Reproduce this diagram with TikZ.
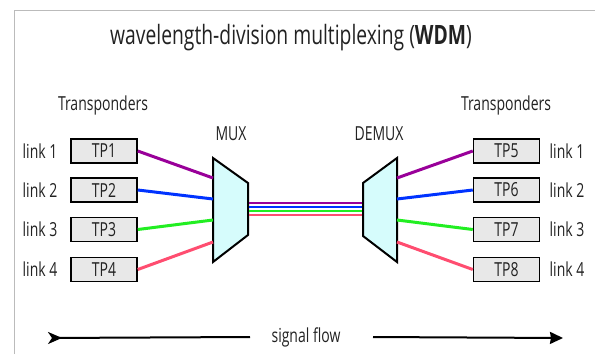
\documentclass[tikz,border=0pt]{standalone}
\usepackage{graphicx}
\usepackage{fontspec}
\setmainfont{Open Sans}
\usetikzlibrary{arrows.meta}
\definecolor{txt}{HTML}{222222}
\definecolor{tpfill}{HTML}{E8E8E8}
\definecolor{muxfill}{HTML}{D6FCFC}
\definecolor{cpurple}{HTML}{990099}
\definecolor{cblue}{HTML}{0033FF}
\definecolor{cgreen}{HTML}{22EE22}
\definecolor{cred}{HTML}{FF4D70}
\definecolor{frame}{HTML}{BBBBBB}
\newcommand\vst[1]{\scalebox{1}[1.38]{#1}}
\tikzset{
  tpbox/.style={draw=black, line width=1.5pt, fill=tpfill, minimum width=66pt, minimum height=24pt, inner sep=0pt, font=\fontsize{14}{16}\selectfont, text=txt},
  lbl/.style={inner sep=0pt, font=\fontsize{14}{16}\selectfont, text=txt},
  muxshape/.style={draw=black, line width=2pt, fill=muxfill, line join=miter},
  fiber/.style={line width=3pt},
  trunk/.style={line width=1.5pt},
  flow/.style={line width=2pt, black}
}
\begin{document}
\begin{tikzpicture}[x=1pt,y=-1pt]
\useasboundingbox (0,0) rectangle (595,354);
\draw[frame, line width=1pt] (14.5,354) -- (14.5,10.5) -- (595,10.5);
\node[inner sep=0pt, font=\fontsize{19.3}{23}\selectfont, text=txt] (title) at (291,38) {\vst{wavelength-division multiplexing (\textbf{WDM})}};
\node[lbl] (trl) at (103,105) {\vst{Transponders}};
\node[lbl] (trr) at (506,105) {\vst{Transponders}};
\node[lbl] (muxl) at (231,134) {\vst{MUX}};
\node[lbl] (demuxl) at (379,134) {\vst{DEMUX}};
% TP boxes
\foreach \i/\y in {1/151,2/190,3/229.5,4/269.5}{
  \node[tpbox] (tp\i) at (104,\y) {\vst{TP\i}};
  \node[lbl] (ll\i) at (40,\y) {\vst{link \i}};
}
\foreach \i/\j/\y in {5/1/151,6/2/190,7/3/229.5,8/4/269.5}{
  \node[tpbox] (tp\i) at (506.5,\y) {\vst{TP\i}};
  \node[lbl] (lr\j) at (567,\y) {\vst{link \j}};
}
% MUX and DEMUX
\draw[muxshape] (213,158) -- (248,183) -- (248,235) -- (213,262) -- cycle;
\draw[muxshape] (397,158) -- (363,183) -- (363,236) -- (397,262) -- cycle;
\foreach \i/\y in {1/178,2/199,3/220,4/242}{
  \coordinate (mi\i) at (213,\y);
  \coordinate (do\i) at (397,\y);
}
\foreach \i/\y in {1/203,2/207,3/211,4/215}{
  \coordinate (mo\i) at (249,\y);
  \coordinate (di\i) at (362,\y);
}
% fibers
\foreach \i/\c in {1/cpurple,2/cblue,3/cgreen,4/cred}{
  \draw[fiber, \c] (tp\i.east) -- (mi\i);
  \draw[trunk, \c] (mo\i) -- (di\i);
}
\draw[fiber, cpurple] (do1) -- (tp5.west);
\draw[fiber, cblue] (do2) -- (tp6.west);
\draw[fiber, cgreen] (do3) -- (tp7.west);
\draw[fiber, cred] (do4) -- (tp8.west);
% signal flow
\node[lbl] (sf) at (306,337) {\vst{signal flow}};
\coordinate (sfa) at (48,338);
\coordinate (sfb) at (563,338);
\draw[flow, {Stealth[reversed, length=14pt, width=12pt, inset=4pt]}-] (sfa) -- (sf.west -| 250,0) ;
\draw[flow, -{Stealth[length=13pt, width=12pt, inset=1pt]}] (sf.east -| 373,0) -- (sfb);
\end{tikzpicture}
\end{document}
